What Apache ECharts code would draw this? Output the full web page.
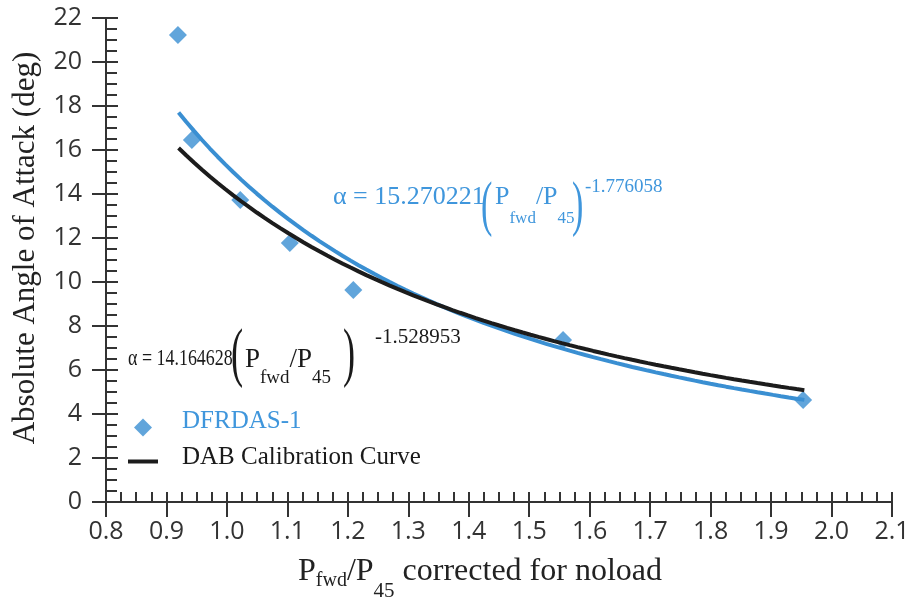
<!DOCTYPE html>
<html>
<head>
<meta charset="utf-8">
<title>Absolute Angle of Attack vs Pfwd/P45</title>
<script src="https://cdn.jsdelivr.net/npm/echarts@6/dist/echarts.min.js"></script>
<style>
  html, body { margin: 0; padding: 0; background: #ffffff; }
  #chart { width: 914px; height: 601px; }
</style>
</head>
<body>
<div id="chart"></div>
<script>
// Measured DFRDAS-1 points: pressure ratio vs absolute angle of attack (deg)
const pressureRatio = [0.919, 0.942, 1.022, 1.104, 1.209, 1.556, 1.953];
const angleOfAttack = [21.23, 16.45, 13.73, 11.77, 9.64, 7.36, 4.64];

// Power-law fits alpha = a * (Pfwd/P45)^b, coefficients as printed on the plot
const dfrdasFit = [15.270221, -1.776058];
const dabFit = [14.164628, -1.528953];
const fitRange = [0.92, 1.955];

// Axis ranges: [min, max, interval]
const xAxisRange = [0.8, 2.1, 0.1];
const yAxisRange = [0, 22, 2];

const BLUE = '#3a8fd2';
const BLUE_TEXT = '#3f96dc';
const DARK = '#1c1c1c';
const AXIS = '#333333';
const SERIF = '"Liberation Serif", "Times New Roman", serif';
const SANS = '"Open Sans", "Noto Sans", sans-serif';

function fitCurve(coef, range, n) {
  const pts = [];
  for (let i = 0; i <= n; i++) {
    const x = range[0] + (range[1] - range[0]) * i / n;
    pts.push([x, coef[0] * Math.pow(x, coef[1])]);
  }
  return pts;
}

const measured = pressureRatio.map((x, i) => [x, angleOfAttack[i]]);

function valueAxis(range, extra) {
  return Object.assign({
    type: 'value',
    min: range[0],
    max: range[1],
    interval: range[2],
    splitLine: { show: false },
    axisLine: { show: true, onZero: false, lineStyle: { color: AXIS, width: 2 } }
  }, extra);
}

const tickLabelStyle = { color: '#333', fontFamily: SANS, fontSize: 25 };

const option = {
  animation: false,
  backgroundColor: '#ffffff',
  grid: { left: 106, right: 22, top: 18, bottom: 99, containLabel: false, outerBoundsMode: 'none' },
  xAxis: [
    valueAxis(xAxisRange, {
      position: 'bottom',
      name: '{m|P}{s1|fwd}{m|/P}{s2|45}{m| corrected for noload}',
      nameLocation: 'middle',
      nameGap: 54,
      nameMoveOverlap: false,
      nameTextStyle: {
        color: '#222', fontFamily: SERIF, padding: [0, 38, 0, 0],
        rich: {
          m: { fontSize: 32, lineHeight: 40, verticalAlign: 'top', fontFamily: SERIF, color: '#222' },
          s1: { fontSize: 20, lineHeight: 20, padding: [15, 0, 0, 0], verticalAlign: 'top', fontFamily: SERIF, color: '#222' },
          s2: { fontSize: 21, lineHeight: 20, padding: [25, 0, 0, 0], verticalAlign: 'top', fontFamily: SERIF, color: '#222' }
        }
      },
      axisTick: { show: true, inside: false, length: 15, lineStyle: { color: AXIS, width: 2 } },
      axisLabel: Object.assign({ margin: 17, formatter: v => v.toFixed(1) }, tickLabelStyle)
    }),
    valueAxis(xAxisRange, {
      position: 'bottom',
      axisTick: { show: true, inside: true, length: 10, lineStyle: { color: AXIS, width: 2 } },
      minorTick: { show: true, splitNumber: 4, length: 10, lineStyle: { color: AXIS, width: 2 } },
      axisLabel: { show: false }
    })
  ],
  yAxis: [
    valueAxis(yAxisRange, {
      position: 'left',
      name: 'Absolute Angle of Attack (deg)',
      nameLocation: 'middle',
      nameGap: 65,
      nameMoveOverlap: false,
      nameTextStyle: { color: '#222', fontFamily: SERIF, fontSize: 31, padding: [0, 0, 0, 24] },
      axisTick: { show: true, inside: false, length: 14, lineStyle: { color: AXIS, width: 2 } },
      axisLabel: Object.assign({ margin: 24 }, tickLabelStyle)
    }),
    valueAxis(yAxisRange, {
      position: 'left',
      axisTick: { show: true, inside: true, length: 12, lineStyle: { color: AXIS, width: 2 } },
      minorTick: { show: true, splitNumber: 4, length: 11, lineStyle: { color: AXIS, width: 2 } },
      axisLabel: { show: false }
    })
  ],
  legend: [
    {
      left: 134, top: 409, padding: 0,
      itemWidth: 18, itemHeight: 18,
      selectedMode: false,
      data: [{ name: 'DFRDAS-1', icon: 'diamond' }],
      formatter: name => '{g|}{n|' + name + '}',
      textStyle: {
        rich: {
          g: { width: 25 },
          n: { fontFamily: SERIF, fontSize: 25, lineHeight: 26, color: BLUE_TEXT, padding: [0, 0, 12, 0] }
        }
      }
    },
    {
      left: 128, top: 445, padding: 0,
      itemWidth: 30, itemHeight: 4,
      selectedMode: false,
      data: [{ name: 'DAB Calibration Curve', icon: 'rect' }],
      formatter: name => '{g|}{n|' + name + '}',
      textStyle: {
        rich: {
          g: { width: 19 },
          n: { fontFamily: SERIF, fontSize: 25, lineHeight: 26, color: '#1a1a1a', padding: [0, 0, 8, 0] }
        }
      }
    }
  ],
  series: [
    {
      name: 'DFRDAS-1',
      type: 'scatter',
      data: measured,
      symbol: 'diamond',
      symbolSize: 18,
      itemStyle: { color: BLUE },
      z: 2
    },
    {
      name: 'DFRDAS-1 fit',
      type: 'line',
      data: fitCurve(dfrdasFit, fitRange, 80),
      showSymbol: false,
      symbol: 'none',
      lineStyle: { color: BLUE, width: 4 },
      itemStyle: { color: BLUE },
      z: 3
    },
    {
      name: 'DAB Calibration Curve',
      type: 'line',
      data: fitCurve(dabFit, fitRange, 80),
      showSymbol: false,
      symbol: 'none',
      lineStyle: { color: DARK, width: 4 },
      itemStyle: { color: DARK },
      z: 4
    }
  ],
  graphic: [
    // DFRDAS-1 fit equation
    { type: 'text', x: 333, y: 197, style: { text: 'α = 15.270221', fill: BLUE_TEXT, font: '26px ' + SERIF, verticalAlign: 'middle' } },
    { type: 'text', x: 481, y: 208, scaleX: 0.55, style: { text: '(', fill: BLUE_TEXT, font: '62px ' + SERIF, verticalAlign: 'middle' } },
    {
      type: 'text', x: 495, y: 184,
      style: {
        text: '{m|P}{s|fwd}{m|/P}{s|45}', fill: BLUE_TEXT, verticalAlign: 'top',
        rich: {
          m: { fontSize: 26, lineHeight: 26, fontFamily: SERIF, fill: BLUE_TEXT, verticalAlign: 'top' },
          s: { fontSize: 17, lineHeight: 16, fontFamily: SERIF, fill: BLUE_TEXT, padding: [26, 0, 0, 0], verticalAlign: 'top' }
        }
      }
    },
    { type: 'text', x: 572, y: 208, scaleX: 0.55, style: { text: ')', fill: BLUE_TEXT, font: '62px ' + SERIF, verticalAlign: 'middle' } },
    { type: 'text', x: 585, y: 187, style: { text: '-1.776058', fill: BLUE_TEXT, font: '19px ' + SERIF, verticalAlign: 'middle' } },

    // DAB calibration equation
    { type: 'text', x: 128, y: 359, scaleX: 0.78, style: { text: 'α = 14.164628', fill: '#1a1a1a', font: '23px ' + SERIF, verticalAlign: 'middle' } },
    { type: 'text', x: 231, y: 357, scaleX: 0.55, style: { text: '(', fill: '#1a1a1a', font: '66px ' + SERIF, verticalAlign: 'middle' } },
    {
      type: 'text', x: 245, y: 346,
      style: {
        text: '{m|P}{s|fwd}{m|/P}{s|45}', fill: '#1a1a1a', verticalAlign: 'top',
        rich: {
          m: { fontSize: 27, lineHeight: 28, fontFamily: SERIF, fill: '#1a1a1a', verticalAlign: 'top' },
          s: { fontSize: 19, lineHeight: 18, fontFamily: SERIF, fill: '#1a1a1a', padding: [23, 0, 0, 0], verticalAlign: 'top' }
        }
      }
    },
    { type: 'text', x: 343, y: 357, scaleX: 0.55, style: { text: ')', fill: '#1a1a1a', font: '66px ' + SERIF, verticalAlign: 'middle' } },
    { type: 'text', x: 375, y: 337, style: { text: '-1.528953', fill: '#1a1a1a', font: '21px ' + SERIF, verticalAlign: 'middle' } }
  ]
};

const chart = echarts.init(document.getElementById('chart'), null, { renderer: 'canvas' });
chart.setOption(option);
</script>
</body>
</html>
